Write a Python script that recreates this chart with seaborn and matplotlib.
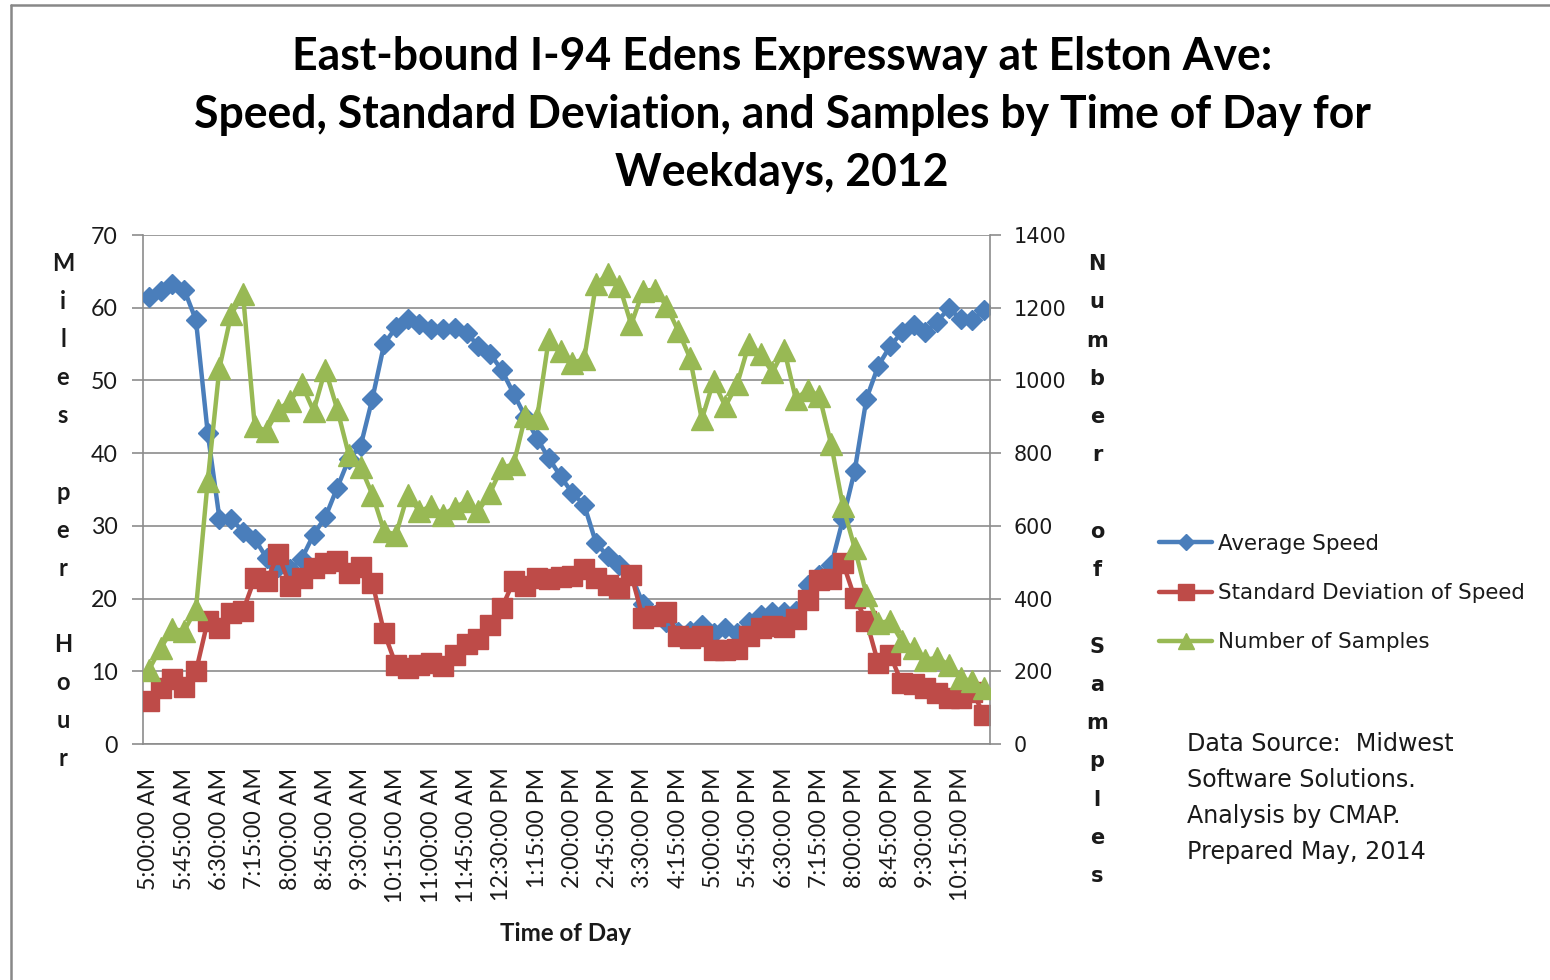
import numpy as np
import pandas as pd
import matplotlib
matplotlib.use("Agg")
import matplotlib.pyplot as plt
import seaborn as sns
from matplotlib.lines import Line2D
from matplotlib.transforms import Bbox, TransformedBbox

# ---------------- data ----------------
TIMES = [
    "5:00:00 AM", "5:15:00 AM", "5:30:00 AM", "5:45:00 AM", "6:00:00 AM", "6:15:00 AM",
    "6:30:00 AM", "6:45:00 AM", "7:00:00 AM", "7:15:00 AM", "7:30:00 AM", "7:45:00 AM",
    "8:00:00 AM", "8:15:00 AM", "8:30:00 AM", "8:45:00 AM", "9:00:00 AM", "9:15:00 AM",
    "9:30:00 AM", "9:45:00 AM", "10:00:00 AM", "10:15:00 AM", "10:30:00 AM", "10:45:00 AM",
    "11:00:00 AM", "11:15:00 AM", "11:30:00 AM", "11:45:00 AM", "12:00:00 PM", "12:15:00 PM",
    "12:30:00 PM", "12:45:00 PM", "1:00:00 PM", "1:15:00 PM", "1:30:00 PM", "1:45:00 PM",
    "2:00:00 PM", "2:15:00 PM", "2:30:00 PM", "2:45:00 PM", "3:00:00 PM", "3:15:00 PM",
    "3:30:00 PM", "3:45:00 PM", "4:00:00 PM", "4:15:00 PM", "4:30:00 PM", "4:45:00 PM",
    "5:00:00 PM", "5:15:00 PM", "5:30:00 PM", "5:45:00 PM", "6:00:00 PM", "6:15:00 PM",
    "6:30:00 PM", "6:45:00 PM", "7:00:00 PM", "7:15:00 PM", "7:30:00 PM", "7:45:00 PM",
    "8:00:00 PM", "8:15:00 PM", "8:30:00 PM", "8:45:00 PM", "9:00:00 PM", "9:15:00 PM",
    "9:30:00 PM", "9:45:00 PM", "10:00:00 PM", "10:15:00 PM", "10:30:00 PM", "10:45:00 PM",
]

TICK_LABELS = [
    "5:00:00 AM", "5:45:00 AM", "6:30:00 AM", "7:15:00 AM", "8:00:00 AM", "8:45:00 AM",
    "9:30:00 AM", "10:15:00 AM", "11:00:00 AM", "11:45:00 AM", "12:30:00 PM", "1:15:00 PM",
    "2:00:00 PM", "2:45:00 PM", "3:30:00 PM", "4:15:00 PM", "5:00:00 PM", "5:45:00 PM",
    "6:30:00 PM", "7:15:00 PM", "8:00:00 PM", "8:45:00 PM", "9:30:00 PM", "10:15:00 PM",
]

AVG_SPEED = [
    61.5, 62.3, 63.3, 62.5, 58.3, 42.8, 31.0, 31.0, 29.2, 28.2,
    25.6, 24.4, 24.0, 25.5, 28.8, 31.2, 35.2, 39.2, 41.0, 47.5,
    55.0, 57.3, 58.4, 57.8, 57.1, 57.1, 57.2, 56.5, 54.8, 53.7,
    51.4, 48.2, 45.0, 42.0, 39.3, 36.8, 34.5, 32.9, 27.7, 25.8,
    24.6, 23.2, 19.3, 17.8, 16.8, 15.4, 15.6, 16.4, 15.3, 15.9,
    15.2, 16.8, 17.8, 18.2, 18.2, 18.3, 21.8, 23.2, 24.6, 30.9,
    37.6, 47.5, 52.0, 54.7, 56.6, 57.6, 56.6, 58.1, 59.9, 58.5,
    58.3, 59.7,
]

STD_SPEED = [
    5.9, 7.7, 8.9, 7.9, 10.0, 16.9, 16.0, 18.0, 18.3, 22.8,
    22.4, 26.1, 21.7, 22.8, 24.2, 24.9, 25.1, 23.5, 24.4, 22.2,
    15.3, 10.9, 10.5, 10.9, 11.1, 10.7, 12.3, 13.7, 14.4, 16.4,
    18.7, 22.4, 21.7, 22.8, 22.7, 23.0, 23.1, 24.0, 22.8, 21.9,
    21.5, 23.3, 17.3, 17.6, 18.2, 14.8, 14.6, 14.8, 12.9, 12.9,
    13.0, 14.8, 15.9, 16.2, 16.1, 17.2, 19.8, 22.5, 22.7, 24.9,
    20.1, 16.9, 11.1, 12.3, 8.4, 8.2, 7.7, 7.0, 6.3, 6.3,
    7.2, 4.0,
]

SAMPLES = [
    204, 264, 315, 312, 370, 723, 1035, 1182, 1237, 874,
    861, 920, 943, 989, 916, 1030, 922, 795, 762, 686,
    585, 576, 686, 640, 654, 631, 650, 668, 640, 691,
    760, 769, 902, 897, 1115, 1080, 1049, 1058, 1264, 1292,
    1260, 1154, 1246, 1250, 1205, 1136, 1062, 893, 998, 929,
    989, 1099, 1072, 1022, 1085, 948, 975, 957, 824, 654,
    539, 411, 333, 338, 283, 264, 232, 237, 218, 182,
    172, 154,
]

SPEED_TICKS = [0, 10, 20, 30, 40, 50, 60, 70]
SAMPLE_TICKS = [0, 200, 400, 600, 800, 1000, 1200, 1400]

SERIES_NAMES = ["Average Speed", "Standard Deviation of Speed", "Number of Samples"]
TITLE_LINES = [
    "East-bound I-94 Edens Expressway at Elston Ave:",
    "Speed, Standard Deviation, and Samples by Time of Day for",
    "Weekdays, 2012",
]
LEFT_LABEL = "Miles per Hour"
RIGHT_LABEL = "Number of Samples"
X_LABEL = "Time of Day"
SOURCE_LINES = [
    "Data Source:  Midwest",
    "Software Solutions.",
    "Analysis by CMAP.",
    "Prepared May, 2014",
]

# ---------------- style ----------------
sns.set_style("white")
CAL = "Lato"          # stand-in for Calibri
VER = "DejaVu Sans"   # stand-in for Verdana
plt.rcParams["font.family"] = [CAL, "DejaVu Sans"]

BLUE = "#4A7EBB"
RED = "#BE4B48"
GREEN = "#98B954"
GRAY = "#8C8C8C"
TXT = "#1A1A1A"

W, H = 1550, 980
fig = plt.figure(figsize=(W / 100, H / 100), dpi=100)
fig.patch.set_facecolor("white")


def fx(px):
    return px / W


def fy(py):
    return 1 - py / H


renderer = fig.canvas.get_renderer()


def fit_size(text, family, weight, target_px, start=16):
    t = fig.text(0, 0, text, fontsize=start, family=family, fontweight=weight)
    w = t.get_window_extent(renderer).width
    t.remove()
    return start * target_px / w


ax = fig.add_axes([fx(143), fy(744), fx(990) - fx(143), fy(235) - fy(744)])

df = pd.DataFrame({
    "pos": np.arange(len(TIMES)),
    "time": TIMES,
    "speed": AVG_SPEED,
    "std": STD_SPEED,
    "samples": SAMPLES,
})

sns.lineplot(data=df, x="pos", y="speed", ax=ax, color=BLUE, linewidth=3.2,
             marker="D", markersize=10.5, markeredgecolor=BLUE, markeredgewidth=1,
             legend=False, zorder=3)
sns.lineplot(data=df, x="pos", y="std", ax=ax, color=RED, linewidth=3.2,
             marker="s", markersize=14, markeredgecolor=RED, markeredgewidth=1,
             legend=False, zorder=4)

ax2 = ax.twinx()
sns.lineplot(data=df, x="pos", y="samples", ax=ax2, color=GREEN, linewidth=3.2,
             marker="^", markersize=16, markeredgecolor=GREEN, markeredgewidth=1,
             legend=False, zorder=5)

ax.set_xlim(-0.5, len(TIMES) - 0.5)
ax.set_ylim(SPEED_TICKS[0], SPEED_TICKS[-1])
ax2.set_ylim(SAMPLE_TICKS[0], SAMPLE_TICKS[-1])
ax.set_xlabel("")
ax.set_ylabel("")
ax2.set_xlabel("")
ax2.set_ylabel("")

# grid & spines
ax.set_axisbelow(True)
ax.yaxis.grid(True, color=GRAY, linewidth=1.2)
ax.xaxis.grid(False)
for s in ["top", "right"]:
    ax.spines[s].set_visible(False)
for s in ["left", "bottom"]:
    ax.spines[s].set_color(GRAY)
    ax.spines[s].set_linewidth(1.2)
for s in ["top", "left", "bottom"]:
    ax2.spines[s].set_visible(False)
ax2.spines["right"].set_color(GRAY)
ax2.spines["right"].set_linewidth(1.2)

# tick label sizes fitted to reference widths
x_fs = fit_size("5:00:00 AM", CAL, "normal", 122)
r_fs = fit_size("1400", VER, "normal", 53)

# left y axis
ax.set_yticks(SPEED_TICKS)
ax.set_yticklabels([str(v) for v in SPEED_TICKS], fontsize=x_fs, family=CAL, color=TXT)
ax.tick_params(axis="y", direction="out", length=8, width=1.2, color=GRAY, pad=10)

# x axis
major = np.arange(0, len(TIMES), 3)
ax.set_xticks(major)
ax.set_xticklabels(TICK_LABELS, rotation=90, fontsize=x_fs, family=CAL, color=TXT,
                   ha="center", va="top")
ax.set_xticks(np.arange(-0.5, len(TIMES), 1), minor=True)
ax.tick_params(axis="x", which="major", length=0, pad=17)
ax.tick_params(axis="x", which="minor", direction="out", length=8, width=1.2, color=GRAY)
clip = TransformedBbox(Bbox([[0, fy(905)], [1, 1]]), fig.transFigure)
for lbl in ax.get_xticklabels():
    lbl.set_clip_box(clip)
    lbl.set_clip_on(True)

# right y axis
ax2.set_yticks(SAMPLE_TICKS)
ax2.set_yticklabels([str(v) for v in SAMPLE_TICKS], fontsize=r_fs, family=VER, color=TXT)
ax2.tick_params(axis="y", direction="out", length=8, width=1.2, color=GRAY, pad=9)

# title
t_fs = fit_size(TITLE_LINES[1], CAL, "bold", 1178, start=28)
for line, ypx in zip(TITLE_LINES, [57, 115, 173]):
    fig.text(fx(782), fy(ypx), line, ha="center", va="center", fontsize=t_fs,
             fontweight="bold", family=CAL, color="black")

# x label
xl_fs = fit_size(X_LABEL, CAL, "bold", 132)
fig.text(fx(566), fy(933), X_LABEL, ha="center", va="center", fontsize=xl_fs,
         fontweight="bold", family=CAL, color=TXT)

# vertical stacked axis titles
for k, ch in enumerate(LEFT_LABEL):
    if ch.strip():
        fig.text(fx(63), fy(263 + 8 + k * 38.1), ch, ha="center", va="baseline",
                 fontsize=17, fontweight="bold", family=CAL, color=TXT)
for k, ch in enumerate(RIGHT_LABEL):
    if ch.strip():
        fig.text(fx(1097), fy(263 + 7 + k * 38.25), ch, ha="center", va="baseline",
                 fontsize=15, fontweight="bold", family=VER, color=TXT)

# legend
handles = [
    Line2D([], [], color=BLUE, lw=3.2, marker="D", markersize=8.5, mec=BLUE),
    Line2D([], [], color=RED, lw=3.2, marker="s", markersize=11, mec=RED),
    Line2D([], [], color=GREEN, lw=3.2, marker="^", markersize=12, mec=GREEN),
]
fig.legend(handles, SERIES_NAMES, loc="center left", bbox_to_anchor=(fx(1159), fy(593)),
           frameon=False, handlelength=2.5, handletextpad=0.25, labelspacing=1.36,
           borderpad=0, borderaxespad=0, numpoints=1,
           prop={"family": VER, "size": 15.4}, labelcolor=TXT)

# data source note
s_fs = fit_size(SOURCE_LINES[0], VER, "normal", 268)
for line, ypx in zip(SOURCE_LINES, [744, 780, 816, 852]):
    fig.text(fx(1187), fy(ypx), line, ha="left", va="center", fontsize=s_fs,
             family=VER, color=TXT)

# chart-area frame (left and top edges visible)
fig.add_artist(Line2D([fx(11), fx(11)], [fy(5), 0], transform=fig.transFigure,
                      color="#888888", lw=1.8))
fig.add_artist(Line2D([fx(11), 1], [fy(5), fy(5)], transform=fig.transFigure,
                      color="#888888", lw=1.8))

fig.savefig("out.png", dpi=100, facecolor="white")
